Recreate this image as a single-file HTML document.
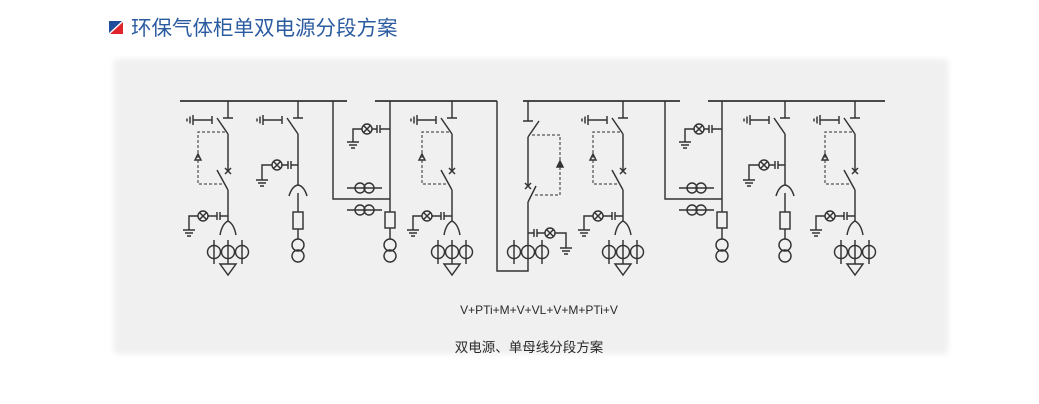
<!DOCTYPE html>
<html><head><meta charset="utf-8">
<style>
html,body{margin:0;padding:0;background:#fff;}
body{width:1039px;height:404px;overflow:hidden;position:relative;}
svg{position:absolute;left:0;top:0;}
.l{fill:none;stroke:#333;stroke-width:1.45;}
.d{fill:none;stroke:#555;stroke-width:1.25;stroke-dasharray:3 2;}
</style></head>
<body>
<svg width="1039" height="404" viewBox="0 0 1039 404" xmlns="http://www.w3.org/2000/svg" xmlns:xlink="http://www.w3.org/1999/xlink">
<defs>
<filter id="bl" x="-5%" y="-5%" width="110%" height="110%"><feGaussianBlur stdDeviation="3"/></filter>
<g id="gnd"><path d="M-6,0H6M-4,3H4M-2,6H2"/></g>
<g id="es"><path d="M-41,118.5V121.5M-38,116.5V123.5M-35,115V125M-35,120H-16M-16,116V124"/></g>
<g id="V" class="l">
 <path d="M0,101V118M-5,118H5M-11,118L0,134M0,134V171M-11,170L0,190M0,190V221"/>
 <path d="M-3,168L3,174M3,168L-3,174"/>
 <use href="#es" xlink:href="#es"/>
 <path class="d" d="M-3,132H-30V184H-4"/>
 <path d="M-30,154L-33,160H-27Z"/>
 <circle cx="-25" cy="216" r="5"/>
 <path d="M-28.5,212.5L-21.5,219.5M-21.5,212.5L-28.5,219.5"/>
 <path d="M0,216H-8M-8,212V220M-11,212V220M-11,216H-20M-30,216H-39V230"/>
 <use href="#gnd" xlink:href="#gnd" x="-39" y="230"/>
 <path d="M-8,235Q-6,224 0,221Q6,224 8,235"/>
 <circle cx="-14" cy="252" r="6.5"/><circle cx="0" cy="252" r="6.5"/><circle cx="14" cy="252" r="6.5"/>
 <path d="M-14,240V264M0,240V264M14,240V264"/>
 <path d="M-8,264H8L0,275Z"/>
</g>
<g id="P" class="l">
 <path d="M0,101V118M-5,118H5M-11,118L0,134M0,134V185"/>
 <use href="#es" xlink:href="#es"/>
 <path d="M0,165H-7M-7,161V169M-10,161V169M-10,165H-16M-26,165H-36V180"/>
 <circle cx="-21" cy="165" r="5"/>
 <path d="M-24.5,161.5L-17.5,168.5M-17.5,161.5L-24.5,168.5"/>
 <use href="#gnd" xlink:href="#gnd" x="-36" y="180"/>
 <path d="M-9,196Q-6,186 0,185Q6,186 9,196"/>
 <path d="M0,193V212"/>
 <rect x="-5" y="212" width="10" height="17"/>
 <path d="M0,229V239"/>
 <circle cx="0" cy="245" r="6"/><circle cx="0" cy="256" r="6"/>
</g>
<g id="M" class="l">
 <path d="M0,101V199H57M57,101V212"/>
 <rect x="52" y="212" width="10" height="16"/>
 <path d="M57,228V239"/>
 <circle cx="57" cy="245" r="6"/><circle cx="57" cy="256" r="6"/>
 <circle cx="34" cy="129" r="5"/>
 <path d="M30.5,125.5L37.5,132.5M37.5,125.5L30.5,132.5"/>
 <path d="M57,129H47M47,125V133M44,125V133M44,129H39M29,129H20V142"/>
 <use href="#gnd" xlink:href="#gnd" x="20" y="142"/>
 <path d="M14,188H49M14,210H49"/>
 <circle cx="27" cy="188" r="5"/><circle cx="36" cy="188" r="5"/>
 <circle cx="27" cy="210" r="5"/><circle cx="36" cy="210" r="5"/>
</g>
</defs>

<!-- panel -->
<rect x="114" y="59" width="834" height="295" fill="#f0f0f0" filter="url(#bl)"/>

<!-- title -->
<polygon points="109,21 122,21 109,33" fill="#1f4f9a"/>
<polygon points="123,22 123,34 110,34" fill="#e0242c"/>
<text x="131" y="35" font-family="'Liberation Sans','Noto Sans CJK SC',sans-serif" font-size="20.5" fill="#2a5ba0">环保气体柜单双电源分段方案</text>

<!-- busbars -->
<path class="l" style="stroke-width:1.7" d="M180,101H347M375,101H497M523,101H680M708,101H885"/>

<use href="#V" xlink:href="#V" x="228"/>
<use href="#P" xlink:href="#P" x="298"/>
<use href="#M" xlink:href="#M" x="333"/>
<use href="#V" xlink:href="#V" x="452"/>
<use href="#V" xlink:href="#V" x="623"/>
<use href="#M" xlink:href="#M" x="665"/>
<use href="#P" xlink:href="#P" x="785"/>
<use href="#V" xlink:href="#V" x="855"/>

<!-- VL unit -->
<g class="l">
 <path d="M528,101V121M523,121H533M539,121L528,137M528,137V186M536,186L528,202M528,202V271H497V101"/>
 <path d="M525,183L531,189M531,183L525,189"/>
 <path class="d" d="M532,135H560V195H533"/>
 <path d="M560,161L557,167H563Z" fill="#333"/>
 <path d="M528,233H534M534,229V237M537,229V237M537,233H545M555,233H566V248"/>
 <circle cx="550" cy="233" r="5"/>
 <path d="M546.5,229.5L553.5,236.5M553.5,229.5L546.5,236.5"/>
 <use href="#gnd" xlink:href="#gnd" x="566" y="248"/>
 <circle cx="514" cy="252" r="6.5"/><circle cx="528" cy="252" r="6.5"/><circle cx="542" cy="252" r="6.5"/>
 <path d="M514,240V264M542,240V264"/>
</g>

<text x="539" y="314" text-anchor="middle" font-family="'Liberation Sans',sans-serif" font-size="12" fill="#2a2a2a">V+PTi+M+V+VL+V+M+PTi+V</text>
<text x="529" y="352" text-anchor="middle" font-family="'Liberation Sans','Noto Sans CJK SC',sans-serif" font-size="13.5" fill="#2a2a2a">双电源、单母线分段方案</text>
</svg>
</body></html>
